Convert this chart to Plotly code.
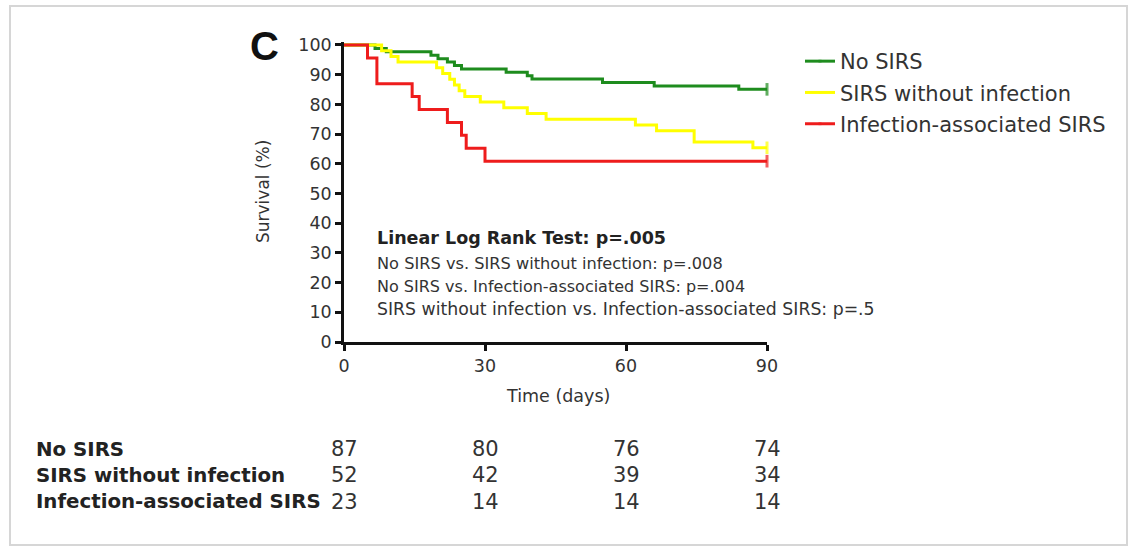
import plotly.graph_objects as go

# ---------------- data ----------------
series_names = ["No SIRS", "SIRS without infection", "Infection-associated SIRS"]
series_colors = ["#1e8c1e", "#ffff00", "#ee1c1c"]

nosirs_days = [0, 6.6, 9, 18.5, 20, 22, 23.5, 25, 34.5, 39, 40, 55, 66, 84, 90]
nosirs_surv = [100, 98.85, 97.70, 96.55, 95.40, 94.25, 93.10, 91.95, 90.80, 89.66, 88.51, 87.36, 86.21, 85.06, 85.06]

sirs_days = [0, 8, 10, 11.5, 19.7, 21, 22.5, 23.5, 24.5, 25.7, 29, 34, 39, 43, 62, 66.5, 74.5, 87, 90]
sirs_surv = [100, 98.08, 96.15, 94.23, 92.31, 90.38, 88.46, 86.54, 84.62, 82.69, 80.77, 78.85, 76.92, 75.00, 73.08, 71.15, 67.31, 65.38, 65.38]

inf_days = [0, 5, 7, 14.5, 16, 22, 25, 26, 30, 90]
inf_surv = [100, 95.65, 86.96, 82.61, 78.26, 73.91, 69.57, 65.22, 60.87, 60.87]

x_ticks = [0, 30, 60, 90]
y_ticks = list(range(0, 101, 10))

risk_times = [0, 30, 60, 90]
risk_nosirs = [87, 80, 76, 74]
risk_sirs = [52, 42, 39, 34]
risk_inf = [23, 14, 14, 14]

stats_title = "Linear Log Rank Test: p=.005"
stats_lines = [
    "No SIRS vs. SIRS without infection: p=.008",
    "No SIRS vs. Infection-associated SIRS: p=.004",
    "SIRS without infection vs. Infection-associated SIRS: p=.5",
]

# ---------------- layout geometry ----------------
W, H = 1130, 549
L, R, T, B = 344, 363, 42, 207
PW, PH = W - L - R, H - T - B

def px_x(p):
    return (p - L) / PW

def px_y(p):
    return (H - B - p) / PH

FONT = "DejaVu Sans, Arial, sans-serif"
TXT = "#333333"

fig = go.Figure()
all_days = [nosirs_days, sirs_days, inf_days]
all_surv = [nosirs_surv, sirs_surv, inf_surv]
for name, col, d, s in zip(series_names, series_colors, all_days, all_surv):
    sizes = [0] * (len(d) - 1) + [9]
    fig.add_trace(go.Scatter(
        x=d, y=s, name=name, mode="lines+markers",
        line=dict(color=col, width=3, shape="hv"),
        marker=dict(symbol="line-ns", size=sizes, color=col,
                    line=dict(color=col, width=3)),
        cliponaxis=False, legendgroup=name,
    ))

fig.update_layout(
    width=W, height=H,
    margin=dict(l=L, r=R, t=T, b=B),
    paper_bgcolor="white", plot_bgcolor="white",
    font=dict(family=FONT, color=TXT),
    showlegend=True,
    legend=dict(x=px_x(800), y=px_y(41), xanchor="left", yanchor="top",
                font=dict(family=FONT, size=21, color=TXT),
                tracegroupgap=1, bgcolor="rgba(0,0,0,0)"),
)
fig.update_xaxes(range=[0, 90], tickvals=x_ticks, showline=True, linecolor="#111111",
                 linewidth=2.5, ticks="outside", ticklen=6, tickwidth=2.5, tickcolor="#111111",
                 showgrid=False, zeroline=False,
                 tickfont=dict(family=FONT, size=17.5, color=TXT))
fig.update_yaxes(range=[0, 101], tickvals=y_ticks, showline=True, linecolor="#111111",
                 linewidth=2.5, ticks="outside", ticklen=6, tickwidth=2.5, tickcolor="#111111",
                 showgrid=False, zeroline=False,
                 tickfont=dict(family=FONT, size=17.5, color=TXT))

ann = []
# panel label
ann.append(dict(text="<b>C</b>", x=px_x(264), y=px_y(46), xref="paper", yref="paper",
                showarrow=False, font=dict(family="Arial, Liberation Sans", size=40, color="#111111"),
                xanchor="center", yanchor="middle"))
# axis titles
ann.append(dict(text="Survival (%)", x=px_x(263), y=px_y(192), xref="paper", yref="paper",
                showarrow=False, textangle=-90, font=dict(family=FONT, size=17, color=TXT),
                xanchor="center", yanchor="middle"))
ann.append(dict(text="Time (days)", x=px_x(558), y=px_y(396), xref="paper", yref="paper",
                showarrow=False, font=dict(family=FONT, size=17.5, color=TXT),
                xanchor="center", yanchor="middle"))
# stats text
ann.append(dict(text="<b>" + stats_title + "</b>", x=px_x(375), y=px_y(238), xref="paper", yref="paper",
                showarrow=False, font=dict(family=FONT, size=17.5, color="#222222"),
                xanchor="left", yanchor="middle"))
stat_sizes = [16.2, 16, 17.3]
for i, line in enumerate(stats_lines):
    ann.append(dict(text=line, x=px_x(375), y=px_y(263 + 23 * i), xref="paper", yref="paper",
                    showarrow=False, font=dict(family=FONT, size=stat_sizes[i], color=TXT),
                    xanchor="left", yanchor="middle"))
# at-risk table
row_y = [449, 475, 502]
for name, vals, yy in zip(series_names, [risk_nosirs, risk_sirs, risk_inf], row_y):
    ann.append(dict(text="<b>" + name + "</b>", x=px_x(34), y=px_y(yy), xref="paper", yref="paper",
                    showarrow=False, font=dict(family=FONT, size=19.8, color="#222222"),
                    xanchor="left", yanchor="middle"))
    for t, v in zip(risk_times, vals):
        ann.append(dict(text=str(v), x=t, y=px_y(yy), xref="x", yref="paper",
                        showarrow=False, font=dict(family=FONT, size=21, color=TXT),
                        xanchor="center", yanchor="middle"))
fig.update_layout(annotations=ann)

# outer frame
fig.add_shape(type="rect", xref="paper", yref="paper",
              x0=px_x(10), x1=px_x(1127), y0=px_y(545), y1=px_y(6),
              line=dict(color="#d6d6d6", width=2), fillcolor="rgba(0,0,0,0)", layer="below")

fig.write_html("out.html")
